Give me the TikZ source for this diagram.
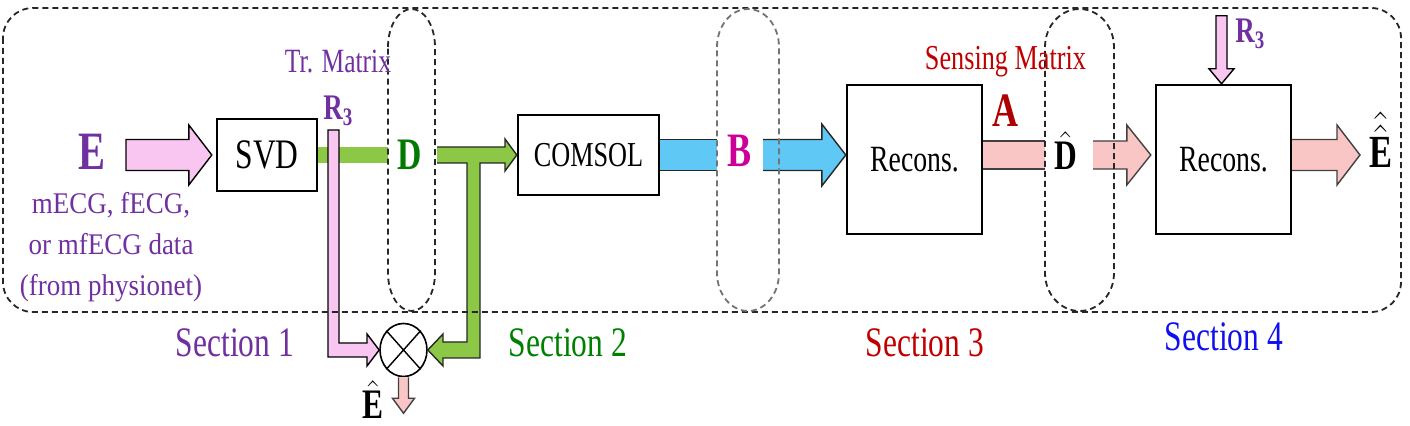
\documentclass[tikz,border=0pt]{standalone}
\usepackage{fontspec}
\usepackage{amsmath}
\setmainfont{Liberation Serif}
\newfontfamily\condfont{Liberation Serif}[FakeStretch=0.75]
\newfontfamily\srcfont{Liberation Serif}[FakeStretch=0.9]
\usetikzlibrary{calc,shapes.geometric}

\definecolor{arrpink}{HTML}{F9C6F2}
\definecolor{arrgreen}{HTML}{8CC846}
\definecolor{arrblue}{HTML}{5FC8F5}
\definecolor{arrsalmon}{HTML}{F9C5C5}
\definecolor{txtpurple}{HTML}{7030A0}
\definecolor{txtgreen}{HTML}{007A00}
\definecolor{txtmagenta}{HTML}{CC0099}
\definecolor{txtred}{HTML}{C00000}
\definecolor{txtblue}{HTML}{1010EE}

\newcommand\fsz[1]{\fontsize{#1}{#1}\selectfont}

% fat arrow: [path end]{style}{tail}{tip}{body half}{head half}{head length}
\newcommand\fatarrow[7][]{%
  \path[#2] ($(#3)!#5!90:(#4)$)
    -- ($($(#4)!#7!(#3)$)!#5!-90:(#3)$)
    -- ($($(#4)!#7!(#3)$)!#6!-90:(#3)$)
    -- (#4)
    -- ($($(#4)!#7!(#3)$)!#6!90:(#3)$)
    -- ($($(#4)!#7!(#3)$)!#5!90:(#3)$)
    -- ($(#3)!#5!-90:(#4)$) #1;}
% fat bar, open at both ends: {style}{from}{to}{half width}
\newcommand\fatbar[4]{%
  \path[#1,draw=none] ($(#2)!#4!90:(#3)$) -- ($(#3)!#4!-90:(#2)$)
    -- ($(#3)!#4!90:(#2)$) -- ($(#2)!#4!-90:(#3)$) -- cycle;
  \path[#1,fill=none] ($(#2)!#4!90:(#3)$) -- ($(#3)!#4!-90:(#2)$)
    ($(#3)!#4!90:(#2)$) -- ($(#2)!#4!-90:(#3)$);}

\tikzset{
  blockbox/.style={draw, line width=1.2pt, fill=white, inner sep=0},
  pinkarr/.style={fill=arrpink, draw=black, line width=0.7pt},
  greenbar/.style={fill=arrgreen},
  greenarr/.style={fill=arrgreen, draw=black!85, line width=0.7pt},
  bluearr/.style={fill=arrblue, draw=black!85, line width=0.7pt},
  salarr/.style={fill=arrsalmon, draw=black!75, line width=0.7pt},
  dashframe/.style={dash pattern=on 3pt off 2pt, line width=0.9pt, draw=black!85},
  symb/.style={font=\condfont\bfseries\fsz{#1}},
  seclbl/.style={font=\condfont\fsz{21}}
}

\begin{document}
\begin{tikzpicture}[x=0.5pt,y=-0.5pt]
  \useasboundingbox (0,0) rectangle (1410,426);

  % blocks
  \node[blockbox, minimum width=50pt, minimum height=36pt, font=\condfont\fsz{21}] (svd) at (267,155) {SVD};
  \node[blockbox, minimum width=70.5pt, minimum height=40pt, font=\condfont\fsz{17.5}] (comsol) at (588.5,155) {COMSOL};
  \node[blockbox, minimum width=67.5pt, minimum height=74.5pt, font=\condfont\fsz{18.5}] (rec1) at (914.5,159.5) {Recons.};
  \node[blockbox, minimum width=67.5pt, minimum height=74.5pt, font=\condfont\fsz{18.5}] (rec2) at (1223.5,159.5) {Recons.};
  \node[draw, ellipse, line width=0.8pt, minimum width=23.5pt, minimum height=26.5pt, inner sep=0] (mult) at (403.5,350) {};
  \draw[line width=0.7pt] (mult.north west) -- (mult.south east) (mult.north east) -- (mult.south west);

  % input arrow
  \coordinate (ein) at (126,155);
  \coordinate (eintip) at ($(svd.west)+(-4,0)$);
  \fatarrow[-- cycle]{pinkarr}{ein}{eintip}{7.75pt}{15pt}{11.5pt}

  % D path and its branch to the multiplier
  \coordinate (g1) at (388,155);
  \fatbar{greenbar}{svd.east}{g1}{4pt}
  \path[greenarr] (437,147) -- (505,147) -- (505,139) -- (comsol.west) -- (505,171) -- (505,163)
    -- (480,163) -- (480,358) -- (443,358) -- (443,366) -- (mult.east) -- (443,334) -- (443,342)
    -- (467,342) -- (467,163) -- (437,163);
  \path[pinkarr] (328,130) -- (339,130) -- (339,343) -- (367,343) -- (367,334) -- (mult.west)
    -- (367,366) -- (367,357) -- (328,357) -- cycle;
  \coordinate (eout) at ($(mult.south)+(0,36)$);
  \fatarrow{salarr}{mult.south}{eout}{2.5pt}{5.5pt}{7.5pt}

  % B path
  \coordinate (b1) at (717,155);
  \coordinate (b2) at (763,155);
  \coordinate (b2tip) at (rec1.west |- comsol);
  \fatbar{bluearr}{comsol.east}{b1}{7.75pt}
  \fatarrow{bluearr}{b2}{b2tip}{7.75pt}{15.5pt}{12pt}

  % D-hat path and output
  \coordinate (s1) at (rec1.east |- comsol);
  \coordinate (s2) at (1045,155);
  \coordinate (s3) at (1093,155);
  \coordinate (s3tip) at ($(rec2.west |- comsol)+(-4,0)$);
  \coordinate (s4) at (rec2.east |- comsol);
  \coordinate (s4tip) at (1360,155);
  \fatbar{salarr}{s1}{s2}{7pt}
  \fatarrow{salarr}{s3}{s3tip}{7pt}{15pt}{12pt}
  \fatarrow{salarr}{s4}{s4tip}{7.75pt}{15pt}{11.5pt}
  \coordinate (r3top) at ($(rec2.north)+(-2,-68)$);
  \coordinate (r3tip) at ($(rec2.north)+(-2,0)$);
  \fatarrow[-- cycle]{pinkarr}{r3top}{r3tip}{2.75pt}{6.25pt}{7.5pt}

  % dashed sections
  \draw[dashframe, rounded corners=15pt] (3,8) rectangle (1401,312);
  \foreach \cx/\hw/\col in {411.5/23.5/black!85, 748/31/black!55, 1079.5/34.5/black!85}{
    \draw[dashframe, draw=\col] (\cx-\hw,47) arc[start angle=180, end angle=0, x radius=\hw*0.5pt, y radius=19pt]
      -- (\cx+\hw,273) arc[start angle=0, end angle=-180, x radius=\hw*0.5pt, y radius=19pt] -- cycle;
  }

  % labels
  \node[symb=27, text=txtpurple] (elab) at (92,152) {E};
  \node[font=\srcfont\fontsize{15}{20.5}\selectfont, text=txtpurple, align=center] (src) at (111,247)
    {mECG, fECG,\\or mfECG data\\(from physionet)};
  \node[font=\condfont\fsz{17}, text=txtpurple] (trm) at (338,61) {Tr. Matrix};
  \node[symb=18, text=txtpurple, anchor=base west, inner sep=0] (r3a) at (323,120) {R\textsubscript{3}};
  \node[symb=22.5, text=txtgreen] (dlab) at (410,155) {D};
  \node[symb=24, text=txtmagenta] (blab) at (740,151) {B};
  \node[font=\condfont\fsz{17.5}, text=txtred] (sens) at (1005.5,62) {Sensing Matrix};
  \node[symb=24, text=txtred!90!black] (alab) at (1005.5,111) {A};
  \node[symb=21, anchor=base, inner sep=0] (dhat) at (1065.5,170) {$\hat{\text{D}}$};
  \node[symb=18, text=txtpurple, anchor=base west, inner sep=0] (r3b) at (1235,43) {R\textsubscript{3}};
  \node[symb=23, anchor=base, inner sep=0] (ehh) at (1381,168) {$\hat{\hat{\text{E}}}$};
  \node[symb=21, anchor=base, inner sep=0] (ehat) at (373,419) {$\hat{\text{E}}$};

  \node[seclbl, text=txtpurple] (sec1) at (235,343) {Section 1};
  \node[seclbl, text=green!50!black] (sec2) at (568,343) {Section 2};
  \node[seclbl, text=txtred] (sec3) at (925,343) {Section 3};
  \node[seclbl, text=txtblue] (sec4) at (1224,337) {Section 4};
\end{tikzpicture}
\end{document}
